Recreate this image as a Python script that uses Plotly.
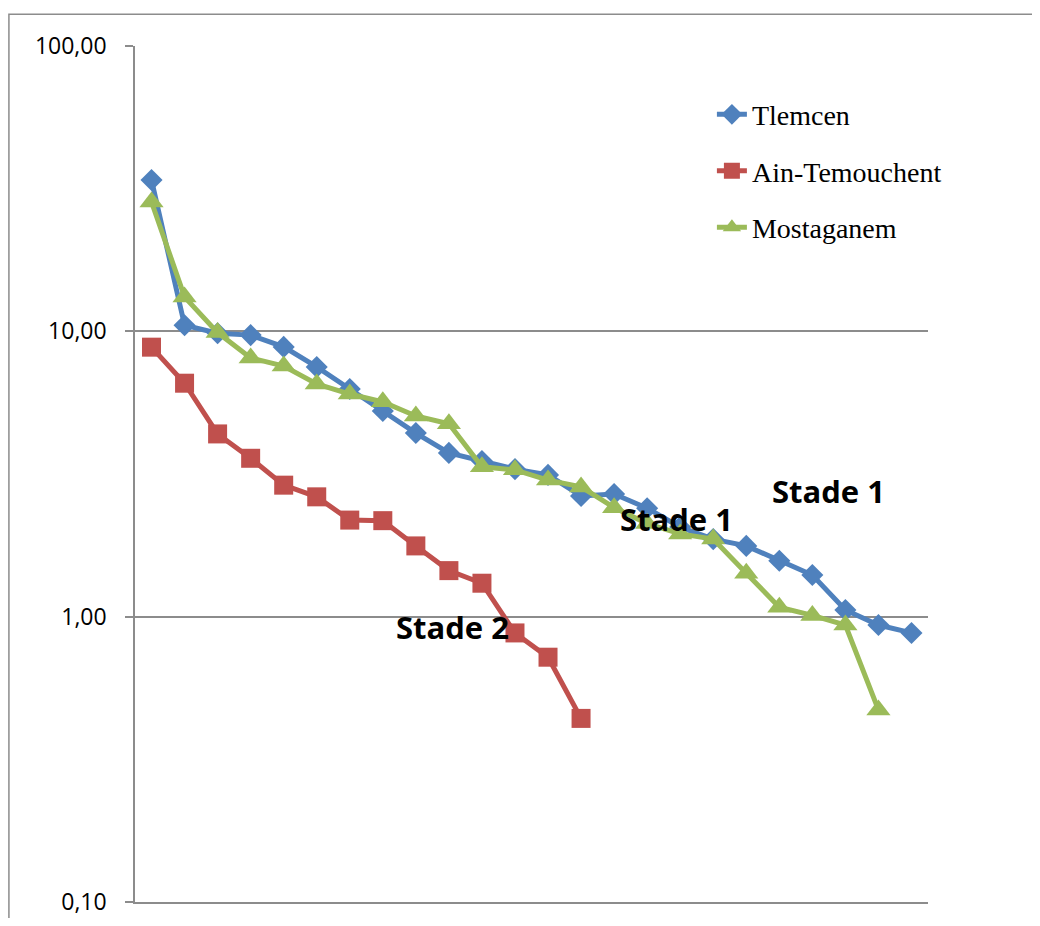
import plotly.graph_objects as go

# rang des points (axe x sans étiquettes)
rang_tlemcen = list(range(1, 25))
rang_ain = list(range(1, 15))
rang_mosta = list(range(1, 24))

tlemcen = [33.9, 10.5, 9.85, 9.7, 8.82, 7.5, 6.28, 5.26, 4.40, 3.75, 3.51, 3.29, 3.14,
           2.65, 2.69, 2.40, 2.06, 1.87, 1.77, 1.57, 1.40, 1.055, 0.935, 0.877]
ain_temouchent = [8.80, 6.58, 4.37, 3.59, 2.89, 2.63, 2.18, 2.17, 1.77, 1.45, 1.31,
                  0.877, 0.721, 0.440]
mostaganem = [28.4, 13.2, 9.9, 8.07, 7.56, 6.54, 6.03, 5.66, 5.05, 4.74, 3.35, 3.27,
              3.01, 2.85, 2.41, 2.12, 1.95, 1.87, 1.42, 1.08, 1.01, 0.935, 0.471]

y_ticks = [0.1, 1, 10, 100]
y_ticktext = ["0,10", "1,00", "10,00", "100,00"]

BLUE = "#4F81BD"
RED = "#C0504D"
GREEN = "#9BBB59"
GRID = "#8C8C8C"

fig = go.Figure()
fig.add_trace(go.Scatter(x=rang_tlemcen, y=tlemcen, name="Tlemcen", legendgroup="a",
                         mode="lines+markers", line=dict(color=BLUE, width=5),
                         marker=dict(symbol="diamond", size=17, color=BLUE)))
fig.add_trace(go.Scatter(x=rang_ain, y=ain_temouchent, name="Ain-Temouchent", legendgroup="b",
                         mode="lines+markers", line=dict(color=RED, width=5),
                         marker=dict(symbol="square", size=19, color=RED)))
fig.add_trace(go.Scatter(x=rang_mosta, y=mostaganem, name="Mostaganem", legendgroup="c",
                         mode="lines+markers", line=dict(color=GREEN, width=5),
                         marker=dict(symbol="triangle-up", size=21, color=GREEN)))

stade_font = dict(family="Open Sans", size=31, color="black", weight="bold")
fig.add_annotation(x=16.9, y=0.342, text="Stade 1", showarrow=False, font=stade_font)
fig.add_annotation(x=21.48, y=0.44, text="Stade 1", showarrow=False, font=stade_font)
fig.add_annotation(x=10.1, y=-0.036, text="Stade 2", showarrow=False, font=stade_font)

# cadre extérieur du graphique
fig.add_shape(type="rect", xref="paper", yref="paper", x0=-0.159, x1=1.3, y0=-0.2, y1=1.037,
              line=dict(color=GRID, width=1.5), layer="below")

fig.update_xaxes(range=[0.5, 24.5], showgrid=False, showticklabels=False, zeroline=False,
                 showline=True, linecolor=GRID, linewidth=1.5, ticks="", automargin=False)
fig.update_yaxes(type="log", range=[-1, 2], tickvals=y_ticks, ticktext=y_ticktext,
                 showgrid=True, gridcolor=GRID, gridwidth=1.5,
                 showline=True, linecolor=GRID, linewidth=1.5,
                 ticks="outside", ticklen=8, tickcolor=GRID, tickwidth=1.5,
                 ticklabelstandoff=14, automargin=False,
                 tickfont=dict(family="Open Sans", size=23, color="black"))

# la page garde une marge de 8 px autour du graphique
fig.update_layout(
    width=1032, height=910,
    margin=dict(l=127, r=112, t=38, b=16),
    paper_bgcolor="white", plot_bgcolor="white",
    showlegend=True,
    legend=dict(x=0.7275, y=0.949, xanchor="left", yanchor="top",
                font=dict(family="Liberation Serif", size=28, color="black"),
                tracegroupgap=17, bgcolor="rgba(0,0,0,0)"),
)

fig.write_html("out.html")
